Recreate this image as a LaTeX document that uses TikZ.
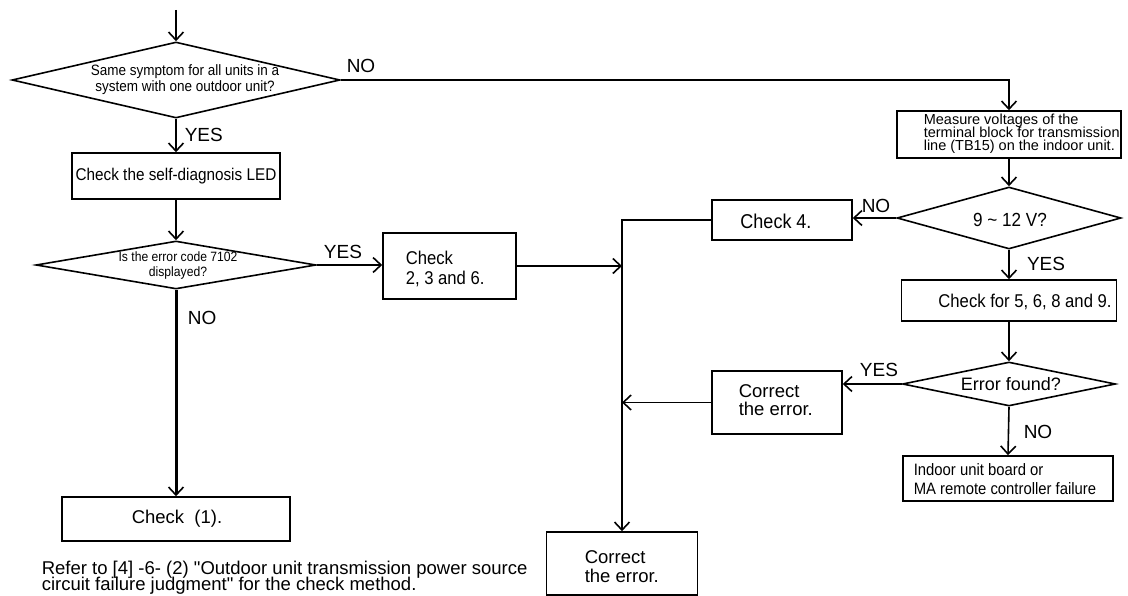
\documentclass[tikz,border=0pt]{standalone}
\usepackage{fontspec}
\setmainfont{Liberation Sans}
\newfontfamily\cnd[FakeStretch=0.9]{Liberation Sans}
\usetikzlibrary{shapes.geometric,arrows.meta}
\newcommand\fsz[2]{\fontsize{#1}{#2}\selectfont\lineskiplimit=-30pt}
\begin{document}
\begin{tikzpicture}[x=1pt,y=-1pt,line width=1.6pt,
 box/.style={draw, rectangle, inner sep=0pt, line width=1.6pt},
 dia/.style={draw, diamond, inner sep=0pt, line width=1.6pt},
 txt/.style={inner sep=0pt, align=left},
 lbl/.style={inner sep=0pt, font=\fsz{19}{22}},
 arr/.style={-{Straight Barb[length=8pt,width=15pt,line width=1.6pt]}},
]
\useasboundingbox (0,0) rectangle (1128,596);
% left column
\coordinate (start) at (176,10);
\node[dia, minimum width=328pt, minimum height=76pt] (d1) at (176,80) {};
\node[txt, align=center, font=\cnd\fsz{15}{16}] (t1) at (185,80) {Same symptom for all units in a\\system with one outdoor unit?};
\node[box, minimum width=208pt, minimum height=46pt] (b1) at (176,176) {};
\node[txt, font=\cnd\fsz{17}{20}] (t2) at (176,176) {Check the self-diagnosis LED};
\node[dia, minimum width=280pt, minimum height=48pt] (d2) at (176,265) {};
\node[txt, align=center, font=\cnd\fsz{13.5}{15}] (t3) at (178,266) {Is the error code 7102\\displayed?};
\node[box, minimum width=133pt, minimum height=66pt] (b236) at (449.5,266) {};
\node[txt, anchor=west, font=\cnd\fsz{18.5}{20}] (t4) at (405,269) {Check\\2, 3 and 6.};
\node[box, minimum width=228pt, minimum height=44pt] (c1) at (176,519) {};
\node[txt, font=\fsz{18.5}{20}] (t5) at (177,519) {Check\ \ (1).};
\node[txt, anchor=north west, font=\fsz{18.5}{16.5}] (note) at (41,560) {Refer to [4] -6- (2) \textquotedbl Outdoor unit transmission power source\\circuit failure judgment\textquotedbl\ for the check method.};
% labels left
\node[lbl, anchor=west] (y1) at (184,135) {YES};
\node[lbl] (n1) at (361,66) {NO};
\node[lbl] (y2) at (343,252) {YES};
\node[lbl, anchor=west] (n2) at (187,318) {NO};
% middle
\coordinate (vtop) at (622,220);
\node[box, minimum width=140pt, minimum height=40pt] (c4) at (782,220) {};
\node[txt, font=\cnd\fsz{20}{22}] (t6) at (776,221) {Check 4.};
\node[box, minimum width=130pt, minimum height=63pt] (cmid) at (777,402.5) {};
\node[txt, anchor=west, font=\fsz{18.5}{18}] (t7) at (738,400) {Correct\\the error.};
\node[box, minimum width=151pt, minimum height=63pt] (cbot) at (622,563.5) {};
\node[txt, anchor=west, font=\fsz{18.5}{19}] (t8) at (584,567) {Correct\\the error.};
% right column
\node[box, minimum width=224pt, minimum height=47pt] (meas) at (1009,134.5) {};
\node[txt, anchor=west, font=\fsz{14.5}{13}] (t9) at (923,134) {Measure voltages of the\\terminal block for transmission\\line (TB15) on the indoor unit.};
\node[dia, minimum width=224pt, minimum height=62pt] (d3) at (1009,218) {};
\node[txt, font=\cnd\fsz{19}{22}] (t10) at (1010,220) {9 \textasciitilde\ 12 V?};
\node[box, minimum width=215pt, minimum height=41pt] (cfor) at (1009,300.5) {};
\node[txt, font=\cnd\fsz{18.5}{20}] (t11) at (1025,302) {Check for 5, 6, 8 and 9.};
\node[dia, minimum width=213pt, minimum height=44pt] (d4) at (1009,384) {};
\node[txt, font=\fsz{18}{20}] (t12) at (1011,384) {Error found?};
\node[box, minimum width=210pt, minimum height=45pt] (indoor) at (1008,478.5) {};
\node[txt, anchor=west, font=\cnd\fsz{16.5}{19}] (t13) at (913,479) {Indoor unit board or\\MA remote controller failure};
% labels right
\node[lbl] (n3) at (876,206) {NO};
\node[lbl] (y3) at (1046,264) {YES};
\node[lbl] (y4) at (879,370) {YES};
\node[lbl] (n4) at (1038,432) {NO};
% connectors
\draw[arr] (start) -- (d1.north);
\draw[arr] (d1.south) -- (b1.north);
\draw[arr] (d1.east) -- (d1.east -| meas.north) -- (meas.north);
\draw[arr] (b1.south) -- (d2.north);
\draw[arr] (d2.east) -- (d2.east -| b236.west);
\draw[arr, line width=3pt] (d2.south) -- (c1.north);
\draw[arr] (b236.east) -- (b236.east -| vtop);
\draw[arr] (c4.west) -- (vtop) -- (vtop |- cbot.north);
\draw[arr] (cmid.west) -- (cmid.west -| vtop);
\draw[arr] (meas.south) -- (d3.north);
\draw[arr] (d3.west) -- (d3.west -| c4.east);
\draw[arr] (d3.south) -- (cfor.north);
\draw[arr] (cfor.south) -- (d4.north);
\draw[arr] (d4.west) -- (d4.west -| cmid.east);
\draw[arr] (d4.south) -- (indoor.north);
\end{tikzpicture}
\end{document}
